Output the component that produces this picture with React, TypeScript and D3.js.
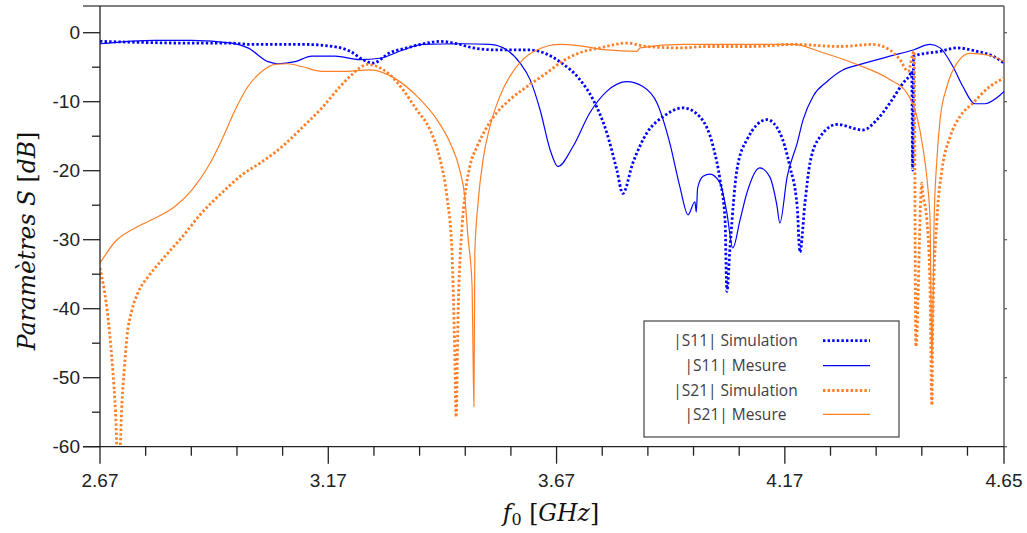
import React from "react";
import * as d3 from "d3";

// ---- Data (frequency in GHz, level in dB) ----
const s11SimF = [2.670, 2.758, 2.845, 2.950, 3.003, 3.119, 3.169, 3.207, 3.218, 3.246, 3.268, 3.305, 3.342, 3.386, 3.415, 3.452, 3.487, 3.539, 3.612, 3.645, 3.677, 3.721, 3.750, 3.780, 3.802, 3.815, 3.837, 3.868, 3.903, 3.947, 3.984, 4.013, 4.028, 4.039, 4.043, 4.050, 4.065, 4.087, 4.131, 4.159, 4.181, 4.197, 4.203, 4.214, 4.225, 4.247, 4.284, 4.341, 4.372, 4.400, 4.429, 4.444, 4.448, 4.450, 4.452, 4.510, 4.547, 4.591, 4.626, 4.650];
const s11SimDb = [-1.26, -1.4, -1.5, -1.5, -1.7, -1.7, -1.9, -2.4, -2.7, -3.9, -4.4, -2.9, -2.2, -1.5, -1.26, -1.6, -2.2, -2.5, -2.5, -3.0, -4.2, -6.8, -9.7, -14.5, -19.9, -23.3, -18.9, -14.5, -12.2, -10.9, -12.2, -16.5, -21.3, -27.1, -37.5, -31.0, -19.9, -15.5, -12.6, -14.5, -19.4, -25.2, -31.8, -24.7, -18.9, -15.1, -13.3, -14.1, -12.6, -10.2, -7.3, -6.1, -5.6, -19.9, -3.4, -2.7, -2.2, -2.7, -3.4, -4.4];

const s11MesF = [2.670, 2.790, 2.871, 2.959, 2.994, 3.038, 3.060, 3.097, 3.134, 3.185, 3.239, 3.283, 3.334, 3.377, 3.465, 3.524, 3.561, 3.590, 3.612, 3.634, 3.656, 3.673, 3.706, 3.743, 3.780, 3.824, 3.859, 3.890, 3.918, 3.940, 3.958, 3.973, 3.976, 3.979, 3.991, 4.006, 4.028, 4.043, 4.056, 4.072, 4.087, 4.115, 4.137, 4.153, 4.159, 4.175, 4.197, 4.210, 4.232, 4.262, 4.297, 4.335, 4.400, 4.451, 4.488, 4.510, 4.538, 4.560, 4.586, 4.608, 4.635, 4.650];
const s11MesDb = [-1.6, -1.1, -1.1, -1.5, -2.2, -4.2, -4.5, -4.2, -3.4, -3.4, -3.9, -3.7, -2.5, -1.7, -1.6, -1.7, -2.5, -4.4, -6.8, -11.2, -17.0, -19.4, -16.5, -11.6, -8.5, -7.1, -7.8, -10.2, -16.0, -22.3, -26.4, -24.5, -26.0, -22.5, -20.8, -20.5, -21.8, -26.1, -31.2, -27.1, -23.2, -19.6, -20.9, -25.2, -27.6, -20.9, -16.0, -12.6, -9.2, -7.1, -5.4, -4.6, -3.4, -2.5, -1.7, -2.2, -4.9, -7.8, -10.3, -10.3, -9.4, -8.5];

const s21SimF = [2.670, 2.688, 2.698, 2.704, 2.708, 2.713, 2.718, 2.723, 2.729, 2.740, 2.753, 2.775, 2.806, 2.850, 2.893, 2.937, 2.981, 3.025, 3.069, 3.112, 3.156, 3.196, 3.218, 3.239, 3.255, 3.277, 3.305, 3.334, 3.364, 3.393, 3.415, 3.430, 3.441, 3.447, 3.450, 3.454, 3.463, 3.469, 3.480, 3.496, 3.518, 3.539, 3.568, 3.612, 3.649, 3.677, 3.721, 3.765, 3.824, 3.868, 3.940, 3.999, 4.100, 4.188, 4.291, 4.363, 4.400, 4.422, 4.440, 4.453, 4.457, 4.470, 4.472, 4.481, 4.488, 4.492, 4.494, 4.503, 4.514, 4.532, 4.553, 4.582, 4.619, 4.650];
const s21SimDb = [-34.1, -41.6, -48.9, -55.0, -61.0, -61.0, -53.7, -48.9, -44.1, -40.2, -37.7, -35.4, -32.9, -29.6, -26.1, -23.2, -20.6, -18.7, -16.5, -13.8, -10.9, -7.8, -6.3, -5.1, -4.6, -4.9, -6.1, -8.3, -11.2, -14.1, -18.4, -23.8, -31.9, -46.4, -55.7, -41.6, -28.1, -23.8, -19.4, -16.5, -13.6, -11.6, -9.7, -7.5, -5.8, -4.4, -2.9, -2.2, -1.5, -2.0, -2.2, -2.0, -2.0, -1.7, -2.0, -1.7, -2.5, -3.9, -5.6, -2.7, -45.5, -21.8, -23.2, -27.1, -36.8, -54.0, -41.6, -27.1, -19.9, -15.1, -12.2, -10.2, -7.8, -6.6];

const s21MesF = [2.670, 2.703, 2.747, 2.790, 2.834, 2.871, 2.907, 2.937, 2.966, 2.994, 3.025, 3.053, 3.082, 3.112, 3.156, 3.207, 3.261, 3.320, 3.364, 3.408, 3.437, 3.458, 3.469, 3.476, 3.485, 3.487, 3.489, 3.491, 3.498, 3.509, 3.524, 3.546, 3.568, 3.596, 3.627, 3.677, 3.721, 3.780, 3.846, 3.853, 3.947, 4.072, 4.188, 4.254, 4.328, 4.400, 4.437, 4.459, 4.472, 4.483, 4.488, 4.492, 4.497, 4.503, 4.510, 4.525, 4.547, 4.575, 4.619, 4.650];
const s21MesDb = [-33.4, -30.3, -28.3, -26.9, -25.2, -22.8, -19.4, -15.5, -11.2, -7.8, -5.6, -4.6, -4.5, -4.9, -5.6, -5.6, -5.4, -6.8, -9.2, -12.6, -16.0, -19.9, -23.8, -29.6, -36.8, -46.4, -54.2, -31.9, -24.7, -18.4, -13.6, -9.2, -6.3, -3.9, -2.5, -1.7, -1.9, -2.5, -2.7, -2.2, -1.7, -1.7, -1.7, -2.9, -4.6, -6.8, -8.7, -12.1, -16.5, -22.3, -27.1, -48.0, -27.1, -18.4, -12.6, -7.8, -4.4, -3.0, -3.3, -4.2];

const xMajorTicks = [2.67, 3.17, 3.67, 4.17, 4.65];
const xMinorTicks = [2.77, 2.87, 2.97, 3.07, 3.27, 3.37, 3.47, 3.57, 3.77, 3.87, 3.97, 4.07, 4.27, 4.37, 4.47, 4.57];
const yMajorTicks = [0, -10, -20, -30, -40, -50, -60];
const yMinorTicks = [-5, -15, -25, -35, -45, -55];

const legendLabels = ["|S11| Simulation", "|S11| Mesure", "|S21| Simulation", "|S21| Mesure"];

const BLUE = "#0000ff";
const ORANGE = "#ff7f27";

const series = [
  { f: s11SimF, db: s11SimDb, color: BLUE, dotted: true },
  { f: s11MesF, db: s11MesDb, color: BLUE, dotted: false },
  { f: s21SimF, db: s21SimDb, color: ORANGE, dotted: true },
  { f: s21MesF, db: s21MesDb, color: ORANGE, dotted: false },
];

export default function App() {
  const W = 1027, H = 533;
  const left = 100, right = 1004, top = 5.1, bottom = 446.7;
  const x = d3.scaleLinear().domain([2.67, 4.65]).range([left, right]);
  const y = d3.scaleLinear().domain([-60, 4]).range([bottom, top]);

  const line = d3
    .line<[number, number]>()
    .x((d) => x(d[0]))
    .y((d) => y(d[1]))
    .curve(d3.curveMonotoneX);

  const axisColor = "#222";
  const frameColor = "#555";
  const tickFont = "'Liberation Sans', Arial, sans-serif";
  const legendFont = "'Open Sans', 'Noto Sans', sans-serif";

  const legendRowsY = [340.7, 365.7, 390.5, 414.3];

  return (
    <svg width={W} height={H} style={{ position: "absolute", left: 0, top: 0, background: "#fff" }}>
      <defs>
        <clipPath id="plotClip">
          <rect x={left} y={top} width={right - left} height={bottom - top} />
        </clipPath>
      </defs>
      <rect x={0} y={0} width={W} height={H} fill="#fff" />

      {/* frame: top & right */}
      <line x1={83} x2={right} y1={6} y2={6} stroke={frameColor} strokeWidth={1.4} />
      <line x1={right} x2={right} y1={6} y2={bottom} stroke={frameColor} strokeWidth={1.4} />
      {yMajorTicks.map((t) => (
        <line key={"rt" + t} x1={right} x2={right + 3} y1={y(t)} y2={y(t)} stroke={frameColor} strokeWidth={1.2} />
      ))}

      {/* curves */}
      <g clipPath="url(#plotClip)">
        {series.map((s, i) => {
          const pts = s.f.map((f, k) => [f, s.db[k]] as [number, number]);
          return (
            <path
              key={i}
              d={line(pts) || ""}
              fill="none"
              stroke={s.color}
              strokeWidth={s.dotted ? 2.8 : 1.2}
              strokeDasharray={s.dotted ? "2.4 2.2" : undefined}
            />
          );
        })}
      </g>

      {/* left axis */}
      <line x1={left} x2={left} y1={6} y2={bottom} stroke={axisColor} strokeWidth={1.3} />
      {yMajorTicks.map((t) => (
        <g key={"ym" + t}>
          <line x1={83} x2={left} y1={y(t)} y2={y(t)} stroke={axisColor} strokeWidth={1.3} />
          <text x={80} y={y(t)} dy="0.35em" textAnchor="end" fontFamily={tickFont} fontSize={19} fill="#222">
            {t}
          </text>
        </g>
      ))}
      {yMinorTicks.map((t) => (
        <line key={"yn" + t} x1={92} x2={left} y1={y(t)} y2={y(t)} stroke={axisColor} strokeWidth={1.3} />
      ))}

      {/* bottom axis */}
      <line x1={83} x2={right} y1={bottom} y2={bottom} stroke={axisColor} strokeWidth={1.3} />
      {xMajorTicks.map((t) => (
        <g key={"xm" + t}>
          <line x1={x(t)} x2={x(t)} y1={bottom} y2={bottom + 17} stroke={axisColor} strokeWidth={1.3} />
          <text x={x(t)} y={487} textAnchor="middle" fontFamily={tickFont} fontSize={19} fill="#222">
            {t.toFixed(2)}
          </text>
        </g>
      ))}
      {xMinorTicks.map((t) => (
        <line key={"xn" + t} x1={x(t)} x2={x(t)} y1={bottom} y2={bottom + 9} stroke={axisColor} strokeWidth={1.3} />
      ))}

      {/* axis titles */}
      <text
        transform="translate(35,241) rotate(-90)"
        textAnchor="middle"
        fontFamily="'DejaVu Serif', serif"
        fontSize={23.5}
        fill="#111"
      >
        <tspan fontStyle="italic">Paramètres S </tspan>
        <tspan>[</tspan>
        <tspan fontStyle="italic">dB</tspan>
        <tspan>]</tspan>
      </text>
      <text x={551} y={521} textAnchor="middle" fontFamily="'DejaVu Serif', serif" fontSize={23.5} fill="#111">
        <tspan fontStyle="italic">f</tspan>
        <tspan fontSize={16} dy={4}>0</tspan>
        <tspan dy={-4}> [</tspan>
        <tspan fontStyle="italic">GHz</tspan>
        <tspan>]</tspan>
      </text>

      {/* legend */}
      <rect x={644} y={321} width={255} height={116} fill="#fff" stroke="#444" strokeWidth={1.2} />
      {legendLabels.map((lab, i) => (
        <g key={lab}>
          <text
            x={735.5}
            y={legendRowsY[i]}
            dy="0.35em"
            textAnchor="middle"
            fontFamily={legendFont}
            fontSize={15.5}
            fill="#404040"
          >
            {lab}
          </text>
          <line
            x1={823}
            x2={870}
            y1={legendRowsY[i]}
            y2={legendRowsY[i]}
            stroke={series[i].color}
            strokeWidth={series[i].dotted ? 2.8 : 1.2}
            strokeDasharray={series[i].dotted ? "2.4 2.2" : undefined}
          />
        </g>
      ))}
    </svg>
  );
}
